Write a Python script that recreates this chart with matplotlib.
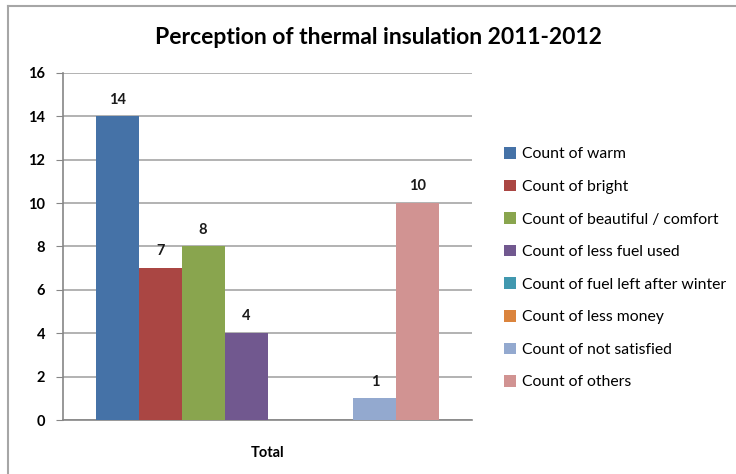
import matplotlib.pyplot as plt
import numpy as np
from matplotlib.lines import Line2D

# data
categories = ["Total"]
series_names = [
    "Count of warm",
    "Count of bright",
    "Count of beautiful / comfort",
    "Count of less fuel used",
    "Count of fuel left after winter",
    "Count of less money",
    "Count of not satisfied",
    "Count of others",
]
values = [14, 7, 8, 4, 0, 0, 1, 10]
colors = ["#4572A7", "#AA4643", "#89A54E", "#71588F",
          "#4198AF", "#DB843D", "#93A9CF", "#D19392"]
y_ticks = [0, 2, 4, 6, 8, 10, 12, 14, 16]

plt.rcParams['font.family'] = ['Lato', 'DejaVu Sans']

W, H = 736, 474
fig = plt.figure(figsize=(W / 100, H / 100), dpi=100)
ax = fig.add_axes([63 / W, 1 - 420 / H, (472 - 63) / W, (420 - 73) / H])

# chart border (cut off on the right and bottom)
fig.add_artist(Line2D([8 / W, 8 / W], [0, 1 - 6 / H], color="#a6a6a6", lw=1.5,
                      transform=fig.transFigure))
fig.add_artist(Line2D([8 / W, 1], [1 - 6 / H, 1 - 6 / H], color="#a6a6a6", lw=1.5,
                      transform=fig.transFigure))

n = len(values)
bw = 0.84 / n
x0 = -0.42 + bw / 2
for i, (name, v, c) in enumerate(zip(series_names, values, colors)):
    xpos = x0 + i * bw
    ax.bar(xpos, v, width=bw, color=c, label=name, zorder=3)
    if v > 0:
        ax.text(xpos, v + 0.45, str(v), ha="center", va="bottom",
                fontsize=10.5, fontweight="bold", color="#1a1a1a")

ax.set_xlim(-0.5, 0.5)
ax.set_ylim(0, 16)
ax.set_yticks(y_ticks)
ax.set_yticklabels([str(t) for t in y_ticks], fontsize=10.5, fontweight="bold")
ax.set_xticks([0])
ax.set_xticklabels(categories, fontsize=10.5, fontweight="bold")
ax.tick_params(axis="x", length=0, pad=19)
ax.tick_params(axis="y", length=5, color="#868686", pad=8)
ax.grid(axis="y", color="#a6a6a6", lw=1.2, zorder=0)
for s in ["top", "right"]:
    ax.spines[s].set_visible(False)
ax.spines["left"].set_color("#868686")
ax.spines["bottom"].set_color("#868686")
ax.spines["left"].set_linewidth(1.2)
ax.spines["bottom"].set_linewidth(1.2)

fig.text(378 / W, 1 - 38 / H, "Perception of thermal insulation 2011-2012",
         ha="center", va="center", fontsize=16.5, fontweight="bold")

leg = fig.legend(loc="upper left", bbox_to_anchor=(490 / W, 1 - 133 / H),
                 frameon=False, fontsize=11.3, handlelength=0.75, handleheight=0.75,
                 handletextpad=0.4, labelspacing=1.17)

fig.savefig("out.png", dpi=100)
